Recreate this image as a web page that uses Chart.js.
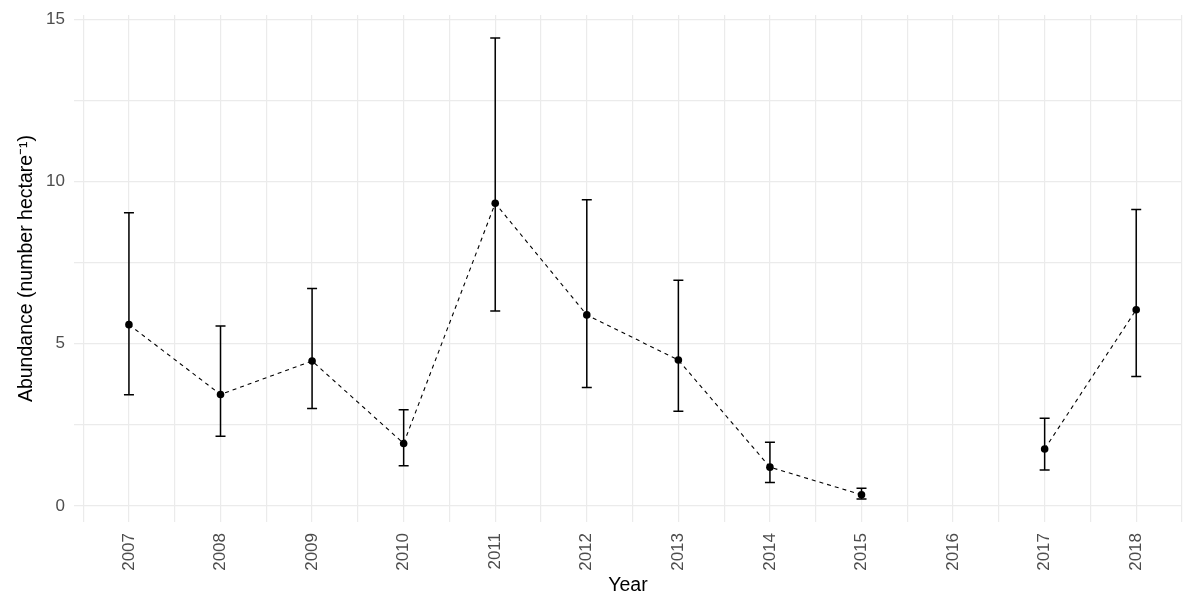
<!DOCTYPE html>
<html>
<head>
<meta charset="utf-8">
<script src="https://cdn.jsdelivr.net/npm/chart.js@4/dist/chart.umd.min.js"></script>
<style>
  html, body { margin: 0; padding: 0; background: #ffffff; overflow: hidden; }
  #wrap { width: 1186px; height: 595px; }
</style>
</head>
<body>
<div id="wrap"><canvas id="c" width="1186" height="595"></canvas></div>
<script>
// Survey years (2016 has no estimate)
const years = ['2007', '2008', '2009', '2010', '2011', '2012', '2013', '2014', '2015', '2016', '2017', '2018'];
// Mean abundance per hectare
const abundance = [5.59, 3.44, 4.47, 1.93, 9.33, 5.89, 4.50, 1.20, 0.35, null, 1.76, 6.05];
// Lower and upper interval bounds
const lower = [3.43, 2.15, 3.01, 1.24, 6.01, 3.65, 2.92, 0.73, 0.22, null, 1.11, 3.99];
const upper = [9.04, 5.55, 6.70, 2.97, 14.42, 9.44, 6.96, 1.97, 0.55, null, 2.71, 9.14];
// Axis ticks: labelled majors plus unlabelled minors for the grid
const yTicks = [0, 2.5, 5, 7.5, 10, 12.5, 15];
const yLabels = [0, 5, 10, 15];

const points = years.map((yr, i) => ({ x: Number(yr), y: abundance[i] }));

const errorBars = {
  id: 'errorBars',
  beforeDatasetsDraw(chart) {
    const { ctx, scales: { x, y } } = chart;
    ctx.save();
    ctx.strokeStyle = '#000000';
    ctx.lineWidth = 1.5;
    const half = 5;
    years.forEach((yr, i) => {
      if (lower[i] == null || upper[i] == null) return;
      const px = x.getPixelForValue(Number(yr));
      const lo = y.getPixelForValue(lower[i]);
      const hi = y.getPixelForValue(upper[i]);
      ctx.beginPath();
      ctx.moveTo(px, lo); ctx.lineTo(px, hi);
      ctx.moveTo(px - half, lo); ctx.lineTo(px + half, lo);
      ctx.moveTo(px - half, hi); ctx.lineTo(px + half, hi);
      ctx.stroke();
    });
    ctx.restore();
  }
};

const gridColor = '#ebebeb';
const tickColor = '#4d4d4d';
const fam = '"Liberation Sans", Arial, sans-serif';

new Chart(document.getElementById('c'), {
  type: 'line',
  data: {
    datasets: [{
      data: points,
      borderColor: '#000000',
      borderWidth: 1.1,
      borderDash: [4, 4],
      pointRadius: 3.8,
      pointBackgroundColor: '#000000',
      pointBorderWidth: 0,
      spanGaps: false,
      tension: 0
    }]
  },
  options: {
    responsive: false,
    animation: false,
    layout: { padding: { left: 0, right: 0, top: 15, bottom: 0 } },
    plugins: { legend: { display: false }, tooltip: { enabled: false } },
    scales: {
      x: {
        type: 'linear',
        min: 2006.4,
        max: 2018.5,
        afterBuildTicks(scale) {
          const t = [];
          for (let v = 2006.5; v <= 2018.5; v += 0.5) t.push({ value: v });
          scale.ticks = t;
        },
        afterFit(scale) {
          scale.height = 73;
          scale.paddingLeft = 0;
          scale.paddingRight = 0;
        },
        grid: { color: gridColor, lineWidth: 1.2, drawTicks: false },
        border: { display: false },
        ticks: {
          autoSkip: false,
          minRotation: 90,
          maxRotation: 90,
          padding: 11,
          color: tickColor,
          font: { family: fam, size: 17 },
          callback: (v) => (years.includes(String(v)) ? String(v) : '')
        },
        title: {
          display: true,
          text: 'Year',
          color: '#000000',
          font: { family: fam, size: 19.5, lineHeight: 1 },
          padding: { top: 0, bottom: 0 }
        }
      },
      y: {
        min: -0.49,
        max: 15.13,
        afterBuildTicks(scale) { scale.ticks = yTicks.map(v => ({ value: v })); },
        afterFit(scale) {
          scale.width = 74;
          scale.paddingTop = 0;
          scale.paddingBottom = 0;
        },
        grid: { color: gridColor, lineWidth: 1.2, drawTicks: false },
        border: { display: false },
        ticks: {
          padding: 9,
          color: tickColor,
          font: { family: fam, size: 17 },
          callback: (v) => (yLabels.includes(v) ? String(v) : '')
        },
        title: {
          display: true,
          text: 'Abundance (number hectare⁻¹)',
          color: '#000000',
          font: { family: fam, size: 19.5, lineHeight: 1 },
          padding: { top: 16.5, bottom: 0 }
        }
      }
    }
  },
  plugins: [errorBars]
});
</script>
</body>
</html>
